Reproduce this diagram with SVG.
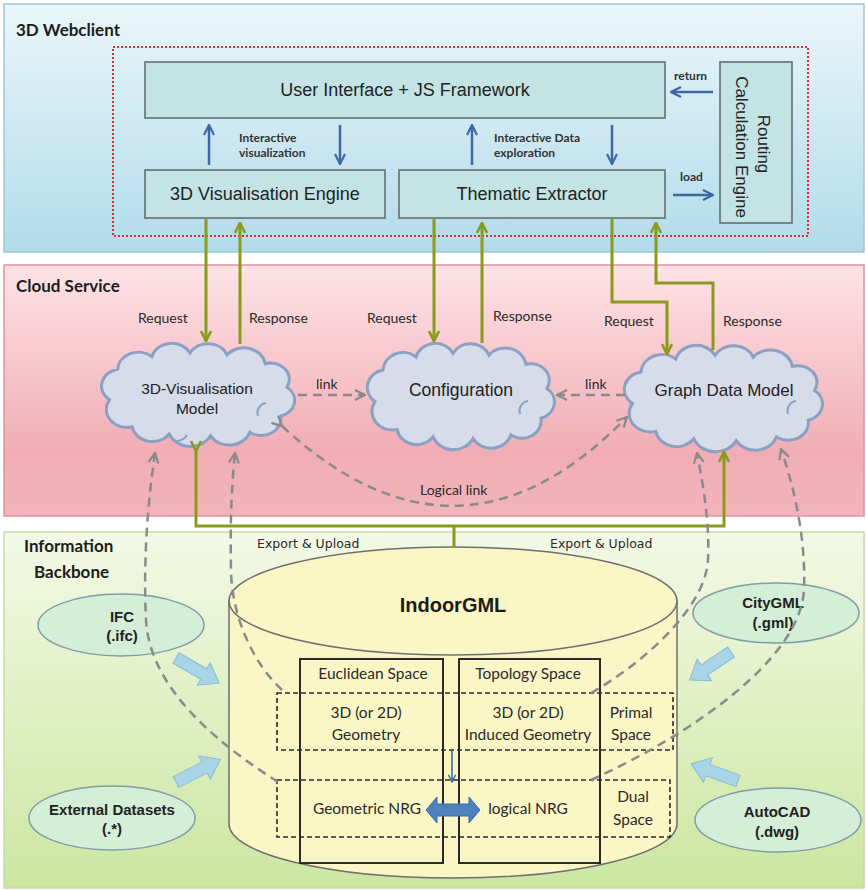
<svg xmlns="http://www.w3.org/2000/svg" width="866" height="890" viewBox="0 0 866 890">
  <defs>
    <linearGradient id="gWeb" x1="0" y1="0" x2="0" y2="1">
      <stop offset="0" stop-color="#eaf6fa"/>
      <stop offset="1" stop-color="#b2dbea"/>
    </linearGradient>
    <linearGradient id="gCloud" x1="0" y1="0" x2="0" y2="1">
      <stop offset="0" stop-color="#fde3e6"/>
      <stop offset="0.75" stop-color="#f1adb5"/>
      <stop offset="1" stop-color="#f2b4bb"/>
    </linearGradient>
    <linearGradient id="gBack" x1="0" y1="0" x2="0" y2="1">
      <stop offset="0" stop-color="#f3f9e6"/>
      <stop offset="1" stop-color="#cce6a1"/>
    </linearGradient>
    <!-- generic cloud outline, roughly 7..194 x 1..112 -->
    <path id="cloudShape" vector-effect="non-scaling-stroke" d="M14 62 A19 19 0 0 1 22 28 A20 20 0 0 1 55 14 A20 20 0 0 1 92 10 A20 20 0 0 1 128 12 A21 21 0 0 1 165 22 A18 18 0 0 1 186 48 A18 18 0 0 1 180 80 A19 19 0 0 1 150 98 A21 21 0 0 1 112 102 A22 22 0 0 1 72 100 A20 20 0 0 1 36 92 A20 20 0 0 1 14 62 Z"/>
    <marker id="ahBlue" viewBox="0 0 12 12" refX="11" refY="6" markerWidth="12" markerHeight="12" markerUnits="userSpaceOnUse" orient="auto">
      <path d="M1 1 L11 6 L1 11" fill="none" stroke="#3d68a6" stroke-width="2.2"/>
    </marker>
    <marker id="ahGreen" viewBox="0 0 12 12" refX="11" refY="6" markerWidth="12" markerHeight="12" markerUnits="userSpaceOnUse" orient="auto">
      <path d="M1 1 L11 6 L1 11" fill="none" stroke="#8a9a1c" stroke-width="2.6"/>
    </marker>
    <marker id="ahGray" viewBox="0 0 12 12" refX="11" refY="6" markerWidth="12" markerHeight="12" markerUnits="userSpaceOnUse" orient="auto">
      <path d="M1 1 L11 6 L1 11" fill="none" stroke="#8a8a8a" stroke-width="2.2"/>
    </marker>
    <marker id="ahBlueSm" viewBox="0 0 10 10" refX="9" refY="5" markerWidth="9" markerHeight="9" markerUnits="userSpaceOnUse" orient="auto">
      <path d="M1 1 L9 5 L1 9" fill="none" stroke="#3d68a6" stroke-width="1.6"/>
    </marker>
    <polygon id="blockArrow" points="0,-6 32,-6 32,-13 50,0 32,13 32,6 0,6"/>
  </defs>
  <style>
    .title { font-family: Lato, "Liberation Sans", sans-serif; font-weight: bold; font-size: 17px; fill: #1c1c1c; }
    .box { fill: #c4e3e5; stroke: #5b6868; stroke-width: 1.5; }
    .boxText { font-family: "Liberation Sans", Arial, sans-serif; font-size: 18px; fill: #222; text-anchor: middle; }
    .small { font-family: Lato, "Liberation Sans", sans-serif; font-weight: bold; font-size: 12px; fill: #333; }
    .lbl { font-family: Lato, "Liberation Sans", sans-serif; font-size: 14px; fill: #2a2a2a; }
    .cloud { fill: #d6dce9; stroke: #8ca0c2; stroke-width: 3; }
    .cloudText { font-family: "Liberation Sans", Arial, sans-serif; font-size: 17px; fill: #222; text-anchor: middle; }
    .ell { fill: #d4eed8; stroke: #7f9ea6; stroke-width: 1.5; }
    .ellText { font-family: "Liberation Sans", Arial, sans-serif; font-weight: bold; font-size: 15px; fill: #222; text-anchor: middle; }
    .inner { font-family: Lato, "Liberation Sans", sans-serif; font-size: 15.5px; fill: #2a2a2a; text-anchor: middle; }
    .green { fill: none; stroke: #8a9a1c; stroke-width: 3; }
    .blue { fill: none; stroke: #3d68a6; stroke-width: 2.5; }
    .dash { fill: none; stroke: #8a8a8a; stroke-width: 2.5; stroke-dasharray: 9 6; }
    .col { fill: none; stroke: #2b2b2b; stroke-width: 2; }
    .space { fill: none; stroke: #2b2b2b; stroke-width: 1.6; stroke-dasharray: 5 3; }
    .bArrow { fill: #a9d3e6; stroke: #8cbdd3; stroke-width: 1; }
    .cloudMark { fill: none; stroke: #8ca0c2; stroke-width: 2; }
  </style>

  <!-- layers -->
  <g id="layer-webclient">
    <rect x="4" y="4" width="860" height="248" fill="url(#gWeb)" stroke="#9cc6d8" stroke-width="1.5"/>
    <text class="title" x="16" y="36">3D Webclient</text>
    <rect x="113" y="47" width="695" height="189" fill="none" stroke="#d0332e" stroke-width="2" stroke-dasharray="2 2"/>
  </g>
  <g id="layer-cloud">
    <rect x="4" y="265" width="860" height="251" fill="url(#gCloud)" stroke="#e0939c" stroke-width="1.5"/>
    <text class="title" x="16" y="292">Cloud Service</text>
  </g>
  <g id="layer-backbone">
    <rect x="4" y="532" width="860" height="356" fill="url(#gBack)" stroke="#c3dea4" stroke-width="1.5"/>
    <text class="title" x="24" y="552">Information</text>
    <text class="title" x="34" y="578">Backbone</text>
  </g>

  <!-- web client components -->
  <g id="ui-framework">
    <rect class="box" x="145" y="62" width="520" height="56"/>
    <text class="boxText" x="405" y="96">User Interface + JS Framework</text>
  </g>
  <g id="vis-engine">
    <rect class="box" x="145" y="170" width="240" height="48"/>
    <text class="boxText" x="265" y="200">3D Visualisation Engine</text>
  </g>
  <g id="thematic-extractor">
    <rect class="box" x="399" y="170" width="266" height="48"/>
    <text class="boxText" x="532" y="200">Thematic Extractor</text>
  </g>
  <g id="routing-engine">
    <rect class="box" x="720" y="62" width="72" height="161"/>
    <text class="boxText" style="font-size:17px" transform="translate(758,144) rotate(90)">Routing</text>
    <text class="boxText" style="font-size:17px" transform="translate(736,147) rotate(90)">Calculation Engine</text>
  </g>

  <!-- cloud services -->
  <g id="vis-model">
    <use href="#cloudShape" class="cloud" transform="translate(95,344) scale(1.032,0.9)"/>
    <path class="cloudMark" d="M258 416 a10 10 0 0 1 8 -13 M172 440 a12 12 0 0 0 15 -5"/>
    <text class="cloudText" x="197" y="394" style="font-size:15.5px">3D-Visualisation</text>
    <text class="cloudText" x="197" y="414" style="font-size:15.5px">Model</text>
  </g>
  <g id="configuration">
    <use href="#cloudShape" class="cloud" transform="translate(361,344) scale(1,0.928)"/>
    <path class="cloudMark" d="M520 414 a10 10 0 0 1 8 -13"/>
    <text class="cloudText" x="461" y="396" style="font-size:17.5px">Configuration</text>
  </g>
  <g id="graph-model">
    <use href="#cloudShape" class="cloud" transform="translate(617.6,346) scale(1.059,0.928)"/>
    <path class="cloudMark" d="M788 414 a10 10 0 0 1 8 -13"/>
    <text class="cloudText" x="724" y="396">Graph Data Model</text>
  </g>

  <!-- IndoorGML store -->
  <g id="indoorgml">
    <path d="M229 601 L229 824 A224 54 0 0 0 677 824 L677 601 Z" fill="#fbf6c6" stroke="#6f6f6f" stroke-width="1.5"/>
    <ellipse cx="453" cy="601" rx="224" ry="54" fill="#fbf6c6" stroke="#6f6f6f" stroke-width="1.5"/>
    <text x="453" y="612" text-anchor="middle" style="font-family:'Liberation Sans',Arial,sans-serif;font-weight:bold;font-size:20px;fill:#1c1c1c">IndoorGML</text>
    <g id="euclidean-space">
      <rect class="col" x="300" y="659" width="143" height="204"/>
      <text class="inner" x="373" y="679">Euclidean Space</text>
      <text class="inner" x="366" y="718">3D (or 2D)</text>
      <text class="inner" x="366" y="740">Geometry</text>
      <text class="inner" x="367" y="814">Geometric NRG</text>
    </g>
    <g id="topology-space">
      <rect class="col" x="459" y="659" width="141" height="204"/>
      <text class="inner" x="528" y="679">Topology Space</text>
      <text class="inner" x="528" y="718">3D (or 2D)</text>
      <text class="inner" x="528" y="740">Induced Geometry</text>
      <text class="inner" x="528" y="814">logical NRG</text>
    </g>
    <g id="primal-space">
      <rect class="space" x="277" y="693" width="396" height="57"/>
      <text class="inner" x="631" y="718">Primal</text>
      <text class="inner" x="631" y="740">Space</text>
    </g>
    <g id="dual-space">
      <rect class="space" x="277" y="780" width="393" height="57"/>
      <text class="inner" x="633" y="802">Dual</text>
      <text class="inner" x="633" y="825">Space</text>
    </g>
    <line x1="452" y1="750" x2="452" y2="782" stroke="#3d68a6" stroke-width="1.6" marker-end="url(#ahBlueSm)"/>
    <polygon points="426,810 437,797 437,804 469,804 469,797 480,810 469,823 469,816 437,816 437,823" fill="#4f81bd" stroke="#3a6aa8" stroke-width="1"/>
  </g>

  <!-- data sources -->
  <g id="ifc">
    <ellipse class="ell" cx="121" cy="625" rx="83" ry="31"/>
    <text class="ellText" x="122" y="622">IFC</text>
    <text class="ellText" x="122" y="641">(.ifc)</text>
  </g>
  <g id="citygml">
    <ellipse class="ell" cx="776" cy="613" rx="83" ry="30"/>
    <text class="ellText" x="773" y="608">CityGML</text>
    <text class="ellText" x="773" y="628">(.gml)</text>
  </g>
  <g id="external">
    <ellipse class="ell" cx="112" cy="818" rx="83" ry="32"/>
    <text class="ellText" x="112" y="815">External Datasets</text>
    <text class="ellText" x="112" y="834">(.*)</text>
  </g>
  <g id="autocad">
    <ellipse class="ell" cx="778" cy="820" rx="83" ry="32"/>
    <text class="ellText" x="777" y="817">AutoCAD</text>
    <text class="ellText" x="777" y="837">(.dwg)</text>
  </g>

  <!-- connectors -->
  <g id="connectors">
    <!-- inside the web client -->
    <line class="blue" x1="209" y1="165" x2="209" y2="125" marker-end="url(#ahBlue)"/>
    <line class="blue" x1="340" y1="125" x2="340" y2="164" marker-end="url(#ahBlue)"/>
    <line class="blue" x1="472" y1="165" x2="472" y2="125" marker-end="url(#ahBlue)"/>
    <line class="blue" x1="612" y1="125" x2="612" y2="164" marker-end="url(#ahBlue)"/>
    <line class="blue" x1="713" y1="92" x2="671" y2="92" marker-end="url(#ahBlue)"/>
    <line class="blue" x1="673" y1="195" x2="713" y2="195" marker-end="url(#ahBlue)"/>
    <text class="small" x="239" y="142">Interactive</text>
    <text class="small" x="239" y="157">visualization</text>
    <text class="small" x="494" y="142">Interactive Data</text>
    <text class="small" x="494" y="157">exploration</text>
    <text class="small" x="674" y="80">return</text>
    <text class="small" x="680" y="181">load</text>

    <!-- request / response -->
    <line class="green" x1="206" y1="219" x2="206" y2="341" marker-end="url(#ahGreen)"/>
    <line class="green" x1="240" y1="344" x2="240" y2="223" marker-end="url(#ahGreen)"/>
    <line class="green" x1="434" y1="219" x2="434" y2="341" marker-end="url(#ahGreen)"/>
    <line class="green" x1="482" y1="343" x2="482" y2="223" marker-end="url(#ahGreen)"/>
    <polyline class="green" points="612,219 612,302 667,302 667,354" marker-end="url(#ahGreen)"/>
    <polyline class="green" points="713,350 713,283 656,283 656,223" marker-end="url(#ahGreen)"/>
    <text class="lbl" x="138" y="323">Request</text>
    <text class="lbl" x="249" y="323">Response</text>
    <text class="lbl" x="367" y="323">Request</text>
    <text class="lbl" x="493" y="321">Response</text>
    <text class="lbl" x="604" y="326">Request</text>
    <text class="lbl" x="723" y="326">Response</text>

    <!-- links between cloud models -->
    <line class="dash" x1="298" y1="395" x2="365" y2="395" marker-end="url(#ahGray)"/>
    <line class="dash" x1="625" y1="395" x2="557" y2="395" marker-end="url(#ahGray)"/>
    <text class="lbl" x="316" y="389">link</text>
    <text class="lbl" x="585" y="389">link</text>
    <path class="dash" d="M282 426 Q459 590 627 417" marker-start="url(#ahGray)" marker-end="url(#ahGray)"/>
    <text class="lbl" x="420" y="495">Logical link</text>

    <!-- export & upload -->
    <polyline class="green" points="196,451 196,526 724,526 724,452" marker-start="url(#ahGreen)" marker-end="url(#ahGreen)"/>
    <line class="green" x1="454" y1="526" x2="454" y2="547"/>
    <text class="lbl" x="257" y="548" style="font-family:'DejaVu Sans',sans-serif;font-size:12.5px">Export &amp; Upload</text>
    <text class="lbl" x="550" y="548" style="font-family:'DejaVu Sans',sans-serif;font-size:12.5px">Export &amp; Upload</text>

    <!-- spaces to cloud models -->
    <path class="dash" d="M278 782 C220 745, 150 690, 146 620 C143 560, 148 500, 155 453" marker-end="url(#ahGray)"/>
    <path class="dash" d="M282 690 C255 665, 232 620, 231 570 C230 520, 232 480, 235 453" marker-end="url(#ahGray)"/>
    <path class="dash" d="M591 693 C640 665, 705 610, 708 560 C710 520, 702 480, 697 453" marker-end="url(#ahGray)"/>
    <path class="dash" d="M591 780 C690 735, 800 660, 804 590 C806 540, 795 490, 781 449" marker-end="url(#ahGray)"/>

    <!-- source imports -->
    <use href="#blockArrow" class="bArrow" transform="translate(176,658) rotate(30)"/>
    <use href="#blockArrow" class="bArrow" transform="translate(176,782) rotate(-27)"/>
    <use href="#blockArrow" class="bArrow" transform="translate(731,652) rotate(146)"/>
    <use href="#blockArrow" class="bArrow" transform="translate(738,781) rotate(200)"/>
  </g>
</svg>
